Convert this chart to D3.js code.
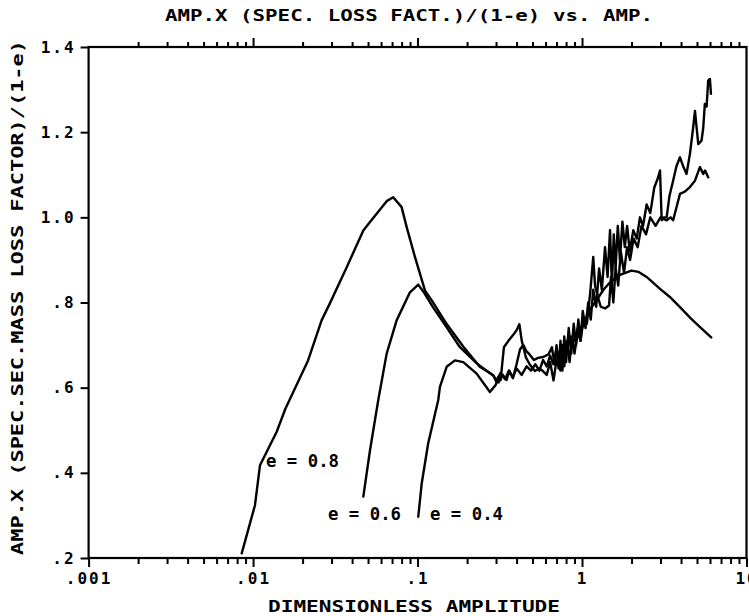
<!DOCTYPE html>
<html>
<head>
<meta charset="utf-8">
<script src="https://cdn.jsdelivr.net/npm/d3@7"></script>
<style>
body { margin: 0; background: #fff; }
svg { display: block; }
text { font-family: "DejaVu Sans Mono", monospace; font-weight: bold; fill: #000; }
</style>
</head>
<body>
<svg id="chart" width="749" height="616"></svg>
<script>
// data: [amplitude, amp * loss factor / (1-e)]
const curveE08 = [
  [0.00853, 0.211], [0.01027, 0.324], [0.01102, 0.418], [0.0139, 0.496], [0.0157, 0.550],
  [0.0216, 0.664], [0.0261, 0.758], [0.0293, 0.798], [0.0371, 0.883], [0.0468, 0.969],
  [0.0514, 0.989], [0.0649, 1.038], [0.0711, 1.047], [0.080, 1.024], [0.0859, 0.977],
  [0.0964, 0.907], [0.111, 0.828], [0.122, 0.805], [0.150, 0.750], [0.190, 0.696],
  [0.239, 0.649], [0.289, 0.629], [0.30, 0.615], [0.32, 0.635], [0.34, 0.620],
  [0.36, 0.640], [0.38, 0.625], [0.40, 0.645], [0.43, 0.630], [0.46, 0.650],
  [0.49, 0.640], [0.52, 0.655], [0.55, 0.640], [0.58, 0.665], [0.61, 0.650],
  [0.64, 0.675], [0.67, 0.655], [0.70, 0.690], [0.73, 0.670], [0.76, 0.700],
  [0.80, 0.680], [0.85, 0.720], [0.90, 0.710], [0.95, 0.745], [1.0, 0.740],
  [1.1, 0.780], [1.2, 0.800], [1.35, 0.830], [1.5, 0.850], [1.7, 0.865],
  [2.0, 0.875], [2.2, 0.872], [2.47, 0.860], [2.98, 0.832], [3.42, 0.813],
  [3.94, 0.789], [4.6, 0.762], [5.3, 0.740], [6.1, 0.718]
];
const curveE06 = [
  [0.0468, 0.344], [0.0514, 0.453], [0.0577, 0.571], [0.0649, 0.680], [0.0746, 0.758],
  [0.0899, 0.824], [0.101, 0.842], [0.110, 0.822], [0.124, 0.789], [0.150, 0.742],
  [0.181, 0.695], [0.229, 0.657], [0.287, 0.629], [0.31, 0.612], [0.33, 0.630],
  [0.348, 0.618], [0.36, 0.640], [0.38, 0.622], [0.40, 0.655], [0.42, 0.690],
  [0.44, 0.700], [0.46, 0.685], [0.48, 0.678], [0.51, 0.665], [0.54, 0.670],
  [0.58, 0.672], [0.625, 0.678], [0.656, 0.695], [0.68, 0.655], [0.70, 0.700],
  [0.72, 0.645], [0.74, 0.710], [0.76, 0.640], [0.78, 0.720], [0.80, 0.660],
  [0.83, 0.740], [0.86, 0.680], [0.89, 0.750], [0.92, 0.700], [0.95, 0.760],
  [0.98, 0.710], [1.01, 0.780], [1.05, 0.740], [1.09, 0.800], [1.13, 0.760],
  [1.17, 0.830], [1.22, 0.790], [1.27, 0.880], [1.32, 0.830], [1.38, 0.930],
  [1.43, 0.860], [1.48, 0.970], [1.52, 0.840], [1.56, 0.960], [1.60, 0.880],
  [1.65, 0.980], [1.70, 0.900], [1.76, 0.990], [1.82, 0.930], [1.88, 0.980],
  [1.95, 0.920], [2.05, 0.970], [2.15, 0.950], [2.25, 1.000], [2.35, 0.980],
  [2.47, 1.030], [2.6, 1.010], [2.75, 1.070], [2.88, 1.090], [2.98, 1.110],
  [3.05, 0.993], [3.15, 1.000], [3.27, 1.000], [3.4, 1.050], [3.58, 1.086],
  [3.75, 1.120], [3.94, 1.141], [4.12, 1.120], [4.32, 1.102], [4.53, 1.149],
  [4.74, 1.211], [4.86, 1.250], [5.09, 1.172], [5.33, 1.180], [5.46, 1.211],
  [5.58, 1.266], [5.72, 1.260], [5.85, 1.321], [5.99, 1.325], [6.08, 1.290]
];
const curveE04 = [
  [0.101, 0.297], [0.106, 0.375], [0.116, 0.469], [0.1336, 0.571], [0.1368, 0.602],
  [0.1503, 0.649], [0.1688, 0.664], [0.1896, 0.660], [0.2287, 0.633], [0.2754, 0.590],
  [0.298, 0.606], [0.31, 0.625], [0.32, 0.618], [0.335, 0.695], [0.36, 0.712],
  [0.385, 0.726], [0.40, 0.735], [0.416, 0.749], [0.43, 0.710], [0.456, 0.671],
  [0.48, 0.655], [0.517, 0.639], [0.55, 0.645], [0.578, 0.639], [0.61, 0.630],
  [0.64, 0.660], [0.671, 0.617], [0.70, 0.665], [0.72, 0.662], [0.74, 0.640],
  [0.76, 0.700], [0.78, 0.650], [0.81, 0.710], [0.84, 0.660], [0.87, 0.720],
  [0.90, 0.680], [0.94, 0.730], [0.98, 0.710], [1.02, 0.760], [1.07, 0.750],
  [1.12, 0.820], [1.17, 0.907], [1.20, 0.840], [1.24, 0.817], [1.30, 0.790],
  [1.38, 0.786], [1.46, 0.793], [1.50, 0.860], [1.55, 0.800], [1.60, 0.880],
  [1.66, 0.840], [1.72, 0.920], [1.80, 0.870], [1.88, 0.930], [1.96, 0.900],
  [2.06, 0.950], [2.18, 0.930], [2.30, 0.980], [2.45, 0.960], [2.6, 1.000],
  [2.8, 0.980], [3.0, 1.000], [3.27, 0.993], [3.45, 1.000], [3.58, 0.993],
  [3.94, 1.055], [4.2, 1.060], [4.53, 1.071], [4.86, 1.086], [5.21, 1.118],
  [5.46, 1.102], [5.6, 1.110], [5.85, 1.094]
];

const xMajorTicks = [0.001, 0.01, 0.1, 1, 10];
const xTickLabels = [".001", ".01", ".1", "1", "10"];
const yTicks = [0.2, 0.4, 0.6, 0.8, 1.0, 1.2, 1.4];
const yTickLabels = [".2", ".4", ".6", ".8", "1.0", "1.2", "1.4"];
const curveLabels = ["e = 0.8", "e = 0.6", "e = 0.4"];

const titleText = "AMP.X (SPEC. LOSS FACT.)/(1-e) vs. AMP.";
const xTitleText = "DIMENSIONLESS AMPLITUDE";
const yTitleText = "AMP.X (SPEC.SEC.MASS LOSS FACTOR)/(1-e)";

// plot box
const plotL = 88.6, plotR = 746.5, plotT = 47, plotB = 558;

const svg = d3.select("#chart");
const x = d3.scaleLog().domain([0.001, 10]).range([plotL, plotR]);
const y = d3.scaleLinear().domain([0.2, 1.4]).range([plotB, plotT]);

// minor log ticks 2..9 in each decade
const xMinorTicks = [];
[0.001, 0.01, 0.1, 1].forEach(d => { for (let k = 2; k <= 9; k++) xMinorTicks.push(d * k); });

function styleAxis(g, w) {
  g.select(".domain").remove();
  g.selectAll(".tick line").attr("stroke", "#000").attr("stroke-width", w);
}
function styleLabels(g) {
  g.selectAll(".tick text").attr("font-size", 16).attr("letter-spacing", 2)
    .attr("font-family", "DejaVu Sans Mono").attr("font-weight", "bold").attr("fill", "#000");
}

// bottom axis
svg.append("g").attr("transform", `translate(0,${plotB})`)
  .call(d3.axisBottom(x).tickValues(xMinorTicks).tickSize(6).tickFormat(""))
  .call(g => styleAxis(g, 2));
svg.append("g").attr("transform", `translate(0,${plotB})`)
  .call(d3.axisBottom(x).tickValues(xMajorTicks).tickSize(9).tickPadding(6)
    .tickFormat((d, i) => xTickLabels[i]))
  .call(g => { styleAxis(g, 2); styleLabels(g); });

// top axis, ticks only
svg.append("g").attr("transform", `translate(0,${plotT})`)
  .call(d3.axisTop(x).tickValues(xMinorTicks).tickSize(5).tickFormat(""))
  .call(g => styleAxis(g, 2));
svg.append("g").attr("transform", `translate(0,${plotT})`)
  .call(d3.axisTop(x).tickValues(xMajorTicks.slice(1, 4)).tickSize(9).tickFormat(""))
  .call(g => styleAxis(g, 2));

// left axis
svg.append("g").attr("transform", `translate(${plotL},0)`)
  .call(d3.axisLeft(y).tickValues(yTicks).tickSize(8).tickPadding(5)
    .tickFormat((d, i) => yTickLabels[i]))
  .call(g => { styleAxis(g, 2); styleLabels(g); });

// frame
svg.append("rect")
  .attr("x", plotL).attr("y", plotT)
  .attr("width", plotR - plotL).attr("height", plotB - plotT)
  .attr("fill", "none").attr("stroke", "#000").attr("stroke-width", 2.2);

// curves
const line = d3.line().x(d => x(d[0])).y(d => y(d[1]));
[curveE08, curveE06, curveE04].forEach(c => {
  svg.append("path").datum(c)
    .attr("d", line)
    .attr("fill", "none").attr("stroke", "#000")
    .attr("stroke-width", 2.4).attr("stroke-linejoin", "round").attr("stroke-linecap", "round");
});

// curve labels
const labelPos = [[266, 467], [328, 520], [430, 520]];
curveLabels.forEach((t, i) => {
  svg.append("text").attr("x", labelPos[i][0]).attr("y", labelPos[i][1])
    .attr("font-size", 17).attr("textLength", 73).attr("lengthAdjust", "spacingAndGlyphs")
    .text(t);
});

// titles
svg.append("text").attr("x", 165).attr("y", 21)
  .attr("font-size", 15).attr("textLength", 488).attr("lengthAdjust", "spacingAndGlyphs")
  .text(titleText);
svg.append("text").attr("x", 268).attr("y", 612)
  .attr("font-size", 16).attr("textLength", 292).attr("lengthAdjust", "spacingAndGlyphs")
  .text(xTitleText);
svg.append("text").attr("transform", "translate(23,555) rotate(-90)")
  .attr("font-size", 16).attr("textLength", 515).attr("lengthAdjust", "spacingAndGlyphs")
  .text(yTitleText);
</script>
</body>
</html>
